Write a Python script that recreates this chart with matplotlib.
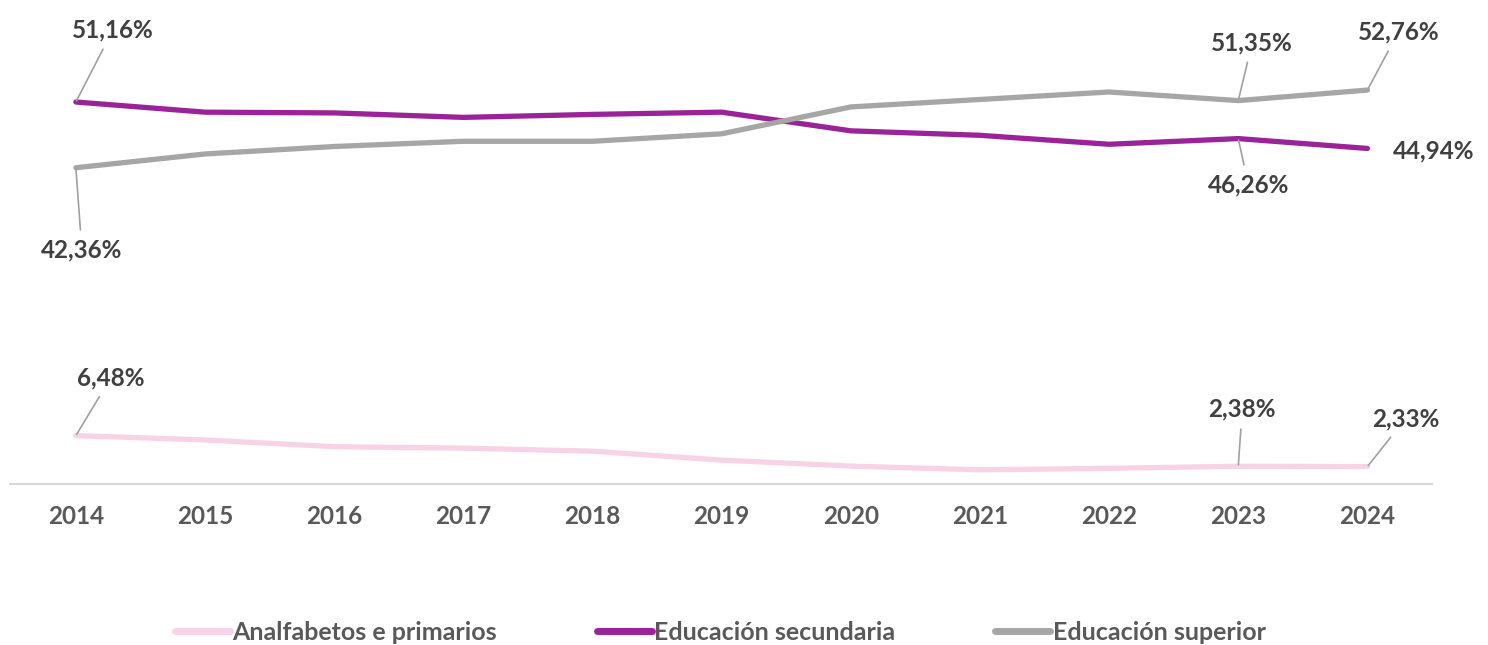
import matplotlib

matplotlib.use("Agg")
import matplotlib.pyplot as plt

DPI = 100
W, H = 1488, 645

years = [2014, 2015, 2016, 2017, 2018, 2019, 2020, 2021, 2022, 2023, 2024]
primarios = [6.48, 5.9, 5.0, 4.8, 4.4, 3.2, 2.4, 1.9, 2.1, 2.38, 2.33]
secundaria = [51.16, 49.8, 49.7, 49.1, 49.5, 49.8, 47.3, 46.7, 45.5, 46.26, 44.94]
superior = [42.36, 44.2, 45.2, 45.9, 45.9, 46.9, 50.5, 51.5, 52.5, 51.35, 52.76]
series_names = ["Analfabetos e primarios", "Educación secundaria", "Educación superior"]

PINK = "#F8D3E6"
MAGENTA = "#9B2399"
GRAY = "#A6A6A6"
INK = "#404040"
TICK = "#595959"

plt.rcParams["font.family"] = ["Lato", "DejaVu Sans"]

fig = plt.figure(figsize=(W / DPI, H / DPI), dpi=DPI)
ax = fig.add_axes([10 / W, (H - 484) / H, 1422 / W, 448 / H])

series = [primarios, secundaria, superior]
colors = [PINK, MAGENTA, GRAY]
for vals, col, name in zip(series, colors, series_names):
    ax.plot(years, vals, color=col, lw=3.8, solid_capstyle="round",
            solid_joinstyle="round", label=name)

ax.set_xlim(2013.49, 2024.5)
ax.set_ylim(0, 60)
ax.set_yticks([])
ax.set_xticks(years)
ax.set_xticklabels([str(y) for y in years], fontsize=17.5, fontweight="bold", color=TICK)
ax.tick_params(axis="x", length=0, pad=15)
for s in ("top", "right", "left"):
    ax.spines[s].set_visible(False)
ax.spines["bottom"].set_color("#D9D9D9")
ax.spines["bottom"].set_linewidth(1.5)


def fmt(v):
    return f"{v:.2f}%".replace(".", ",")


# (year index, series, label offset in pixels, draw leader line)
labels = [
    (0, secundaria, (37, 72), True),
    (0, superior, (6, -82), True),
    (0, primarios, (35, 58), True),
    (9, superior, (14, 58), True),
    (10, superior, (31, 58), True),
    (9, secundaria, (10, -46), True),
    (10, secundaria, (66, -2), False),
    (9, primarios, (4, 57), True),
    (10, primarios, (38, 48), True),
]
for i, vals, off, lead in labels:
    arrow = dict(arrowstyle="-", color="#A0A0A0", lw=1.2, shrinkA=4, shrinkB=1) if lead else None
    ax.annotate(fmt(vals[i]), xy=(years[i], vals[i]), xytext=off,
                textcoords="offset pixels", ha="center", va="center",
                fontsize=17.5, fontweight="bold", color=INK, arrowprops=arrow)

leg = fig.legend(loc="center", bbox_to_anchor=(0.484, (H - 632) / H), ncol=3,
                 frameon=False, fontsize=18, handlelength=2.2, handletextpad=0.1,
                 columnspacing=4.0)
for t in leg.get_texts():
    t.set_color(TICK)
    t.set_fontweight("bold")
for h in leg.get_lines():
    h.set_linewidth(5)

fig.savefig("out.png", dpi=DPI, facecolor="white")
